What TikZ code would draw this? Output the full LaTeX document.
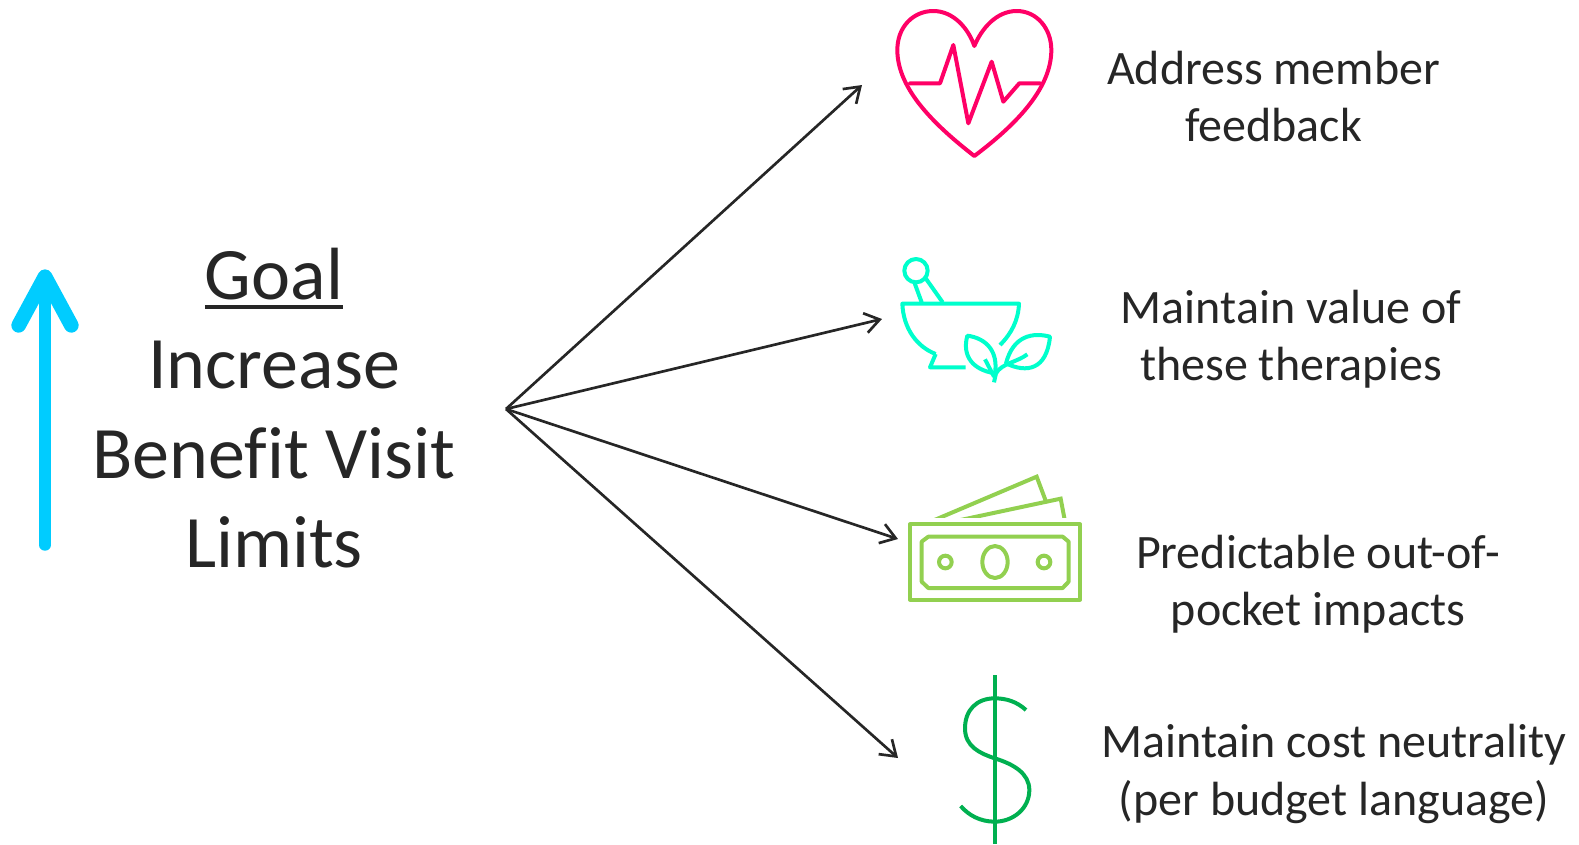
\documentclass[tikz,border=0pt]{standalone}
\usepackage{fontspec}
\setmainfont[Ligatures=NoCommon]{Carlito}
\usetikzlibrary{arrows.meta}
\definecolor{ink}{HTML}{262626}
\definecolor{sky}{HTML}{00CCFF}
\definecolor{pinkred}{HTML}{FF0066}
\definecolor{mint}{HTML}{00FFCC}
\definecolor{leafg}{HTML}{92D050}
\definecolor{dollarg}{HTML}{00B050}
\newcommand\thickul[1]{\setbox0\hbox{#1}\rlap{\raisebox{-7.5pt}{\rule{\wd0}{3.6pt}}}\box0}
\tikzset{
  goaltext/.style={text=ink,align=center,font=\fontsize{55.5}{67}\selectfont,inner sep=0pt},
  itemtext/.style={text=ink,align=center,font=\fontsize{36}{43}\selectfont,inner sep=0pt},
  link/.style={draw=ink,line width=2pt,-{Straight Barb[length=11pt,width=15pt,line width=2pt]}},
  icon/.style={line width=3pt,line join=round},
  zoomed/.style={x=.25pt,y=-.25pt}
}
\begin{document}
\begin{tikzpicture}[x=.75pt,y=-.75pt]
\useasboundingbox (0,0) rectangle (1579,844);
% up arrow
\begin{scope}[shift={(0,250)},zoomed]
  \draw[sky,line width=11pt,line cap=round,line join=round] (56,226) -- (135,80) -- (214,226);
  \draw[sky,line width=8.6pt,line cap=round] (135,85) -- (135,885);
\end{scope}
% goal
\node[goaltext] (goal) at (274,408) {\thickul{Goal}\\Increase\\Benefit Visit\\Limits};
% item texts
\node[itemtext] (t1) at (1273.5,96.5) {Address member\\feedback};
\node[itemtext] (t2) at (1291,339) {Maintain value of\\these therapies};
\node[itemtext] (t3) at (1318,584) {Predictable out-of-\\pocket impacts};
\node[itemtext] (t4) at (1334,774) {Maintain cost neutrality\\(per budget language)};
% connectors
\coordinate (hub) at (506,409);
\coordinate (e1) at (862,85);
\coordinate (e2) at (882,319);
\coordinate (e3) at (898,539);
\coordinate (e4) at (898,758);
\foreach \e in {e1,e2,e3,e4} \draw[link] (hub) -- (\e);
% heart
\begin{scope}[shift={(870,0)},zoomed,icon,pinkred]
  \draw (313,468) .. controls (200,380) and (82,270) .. (82,150)
    .. controls (82,80) and (130,33) .. (190,33)
    .. controls (250,33) and (295,85) .. (313,138)
    .. controls (335,85) and (380,33) .. (440,33)
    .. controls (500,33) and (544,85) .. (544,150)
    .. controls (544,270) and (430,380) .. (313,468) -- cycle;
  \draw[line cap=round] (120,250) -- (210,250) -- (250,135) -- (295,370) -- (365,185) -- (400,305) -- (448,250) -- (510,250);
\end{scope}
% mortar
\begin{scope}[shift={(870,245)},zoomed,icon,mint]
  \draw (138,77) circle[radius=35];
  \draw (133,112) -- (155,172);
  \draw (165,97) -- (218,172);
  \draw (197,327) .. controls (140,305) and (100,250) .. (97,176) -- (447,176)
    .. controls (445,225) and (425,265) .. (390,300);
  \draw (197,327) -- (180,367) -- (287,367);
  \draw (292,272) .. controls (350,280) and (385,320) .. (375,385)
    .. controls (310,375) and (275,335) .. (292,272) -- cycle;
  \draw (345,343) -- (372,395);
  \draw (540,275) .. controls (490,262) and (430,270) .. (408,355)
    .. controls (470,385) and (530,375) .. (540,275) -- cycle;
  \draw (472,328) .. controls (440,352) and (395,355) .. (378,385) -- (372,412);
\end{scope}
% money
\begin{scope}[shift={(880,460)},zoomed,icon,leafg]
  \draw (90,193) rectangle (600,419);
  \draw (145,230) -- (548,230) -- (566,245) -- (566,365) -- (548,384) -- (145,384) -- (125,365) -- (125,245) -- cycle;
  \draw (345,306) ellipse[x radius=38,y radius=48];
  \draw (196,306) circle[radius=19];
  \draw (492,306) circle[radius=19];
  \begin{scope}
    \clip (0,0) rectangle (640,171);
    \draw[line join=miter] (140,190) -- (470,50) -- (500,130);
    \draw[line join=miter] (195,190) -- (542,116) -- (558,200);
  \end{scope}
\end{scope}
% dollar
\begin{scope}[shift={(870,660)},zoomed,icon,dollarg]
  \draw (374,45) -- (374,552);
  \draw (468,150) .. controls (440,125) and (410,115) .. (374,115)
    .. controls (320,115) and (285,150) .. (285,205)
    .. controls (285,260) and (330,280) .. (374,295)
    .. controls (430,312) and (478,340) .. (478,390)
    .. controls (478,445) and (430,485) .. (374,485)
    .. controls (330,485) and (295,465) .. (272,438);
\end{scope}
\end{tikzpicture}
\end{document}
